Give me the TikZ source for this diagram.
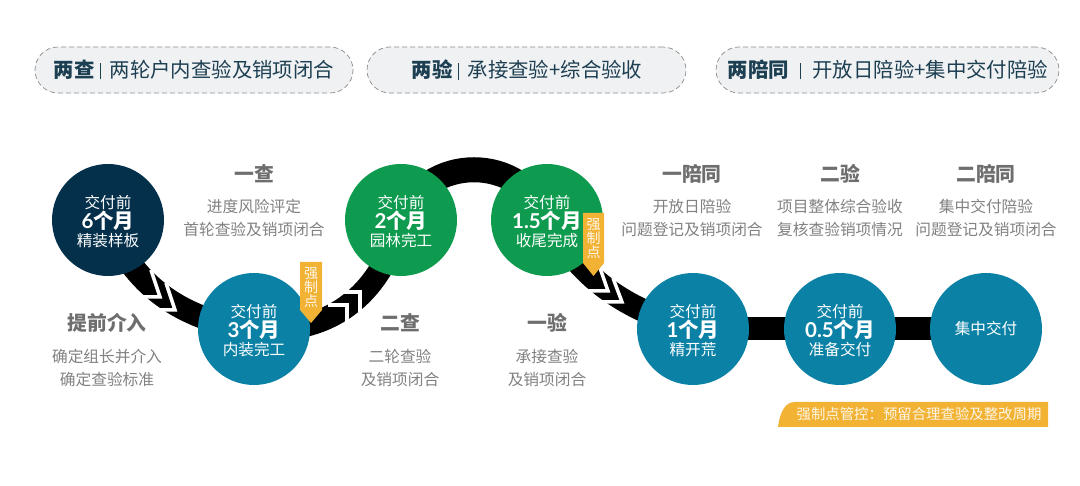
\documentclass[tikz,border=0pt]{standalone}
\usepackage{fontspec}
\setmainfont{Noto Sans CJK SC}
\newfontfamily\latofont{Lato}[BoldFont=Lato Bold]
\usetikzlibrary{backgrounds}
\definecolor{navy}{HTML}{04304B}
\definecolor{teal}{HTML}{0A81A5}
\definecolor{grn}{HTML}{0E9B4F}
\definecolor{flagc}{HTML}{F2B233}
\definecolor{pillf}{HTML}{F0F1F3}
\definecolor{pilld}{HTML}{8C8C8C}
\definecolor{pillt}{HTML}{1D3F52}
\definecolor{headg}{HTML}{6E6E6E}
\definecolor{bodyg}{HTML}{828282}
\newcommand\sz[2]{\fontsize{#1}{#2}\selectfont}
\newcommand\circtext[3]{\vbox{\offinterlineskip\halign{\hfil##\hfil\cr
  \vrule height 16.5pt depth 2.5pt width 0pt\smash{\lower1pt\hbox{\sz{15.6}{19}#1}}\cr
  \vrule height 16.5pt depth 2.5pt width 0pt\smash{\lower1.2pt\hbox{\sz{20.5}{19}\bfseries #2}}\cr
  \vrule height 16.5pt depth 2.5pt width 0pt\smash{\lower0.8pt\hbox{\sz{15.6}{19}#3}}\cr}}}
\newcommand\dg[1]{{\latofont\bfseries #1}}
\newcommand\bodytext[2]{\vbox{\offinterlineskip\halign{\hfil##\hfil\cr
  \vrule height 17pt depth 6pt width 0pt #1\cr
  \vrule height 17pt depth 6pt width 0pt #2\cr}}}
\newcommand\sepbar{\hspace{0.25em}\rule[-0.08em]{0.9pt}{0.8em}\hspace{0.45em}}
\tikzset{
  stage/.style={circle,minimum size=112pt,inner sep=0pt,text=white},
  pill/.style={rounded corners=23pt,draw=pilld,fill=pillf,line width=0.7pt,dash pattern=on 5pt off 3pt,minimum height=46pt,inner sep=0pt},
  pilltext/.style={text=pillt,font=\sz{20.4}{24},inner sep=0pt},
  head/.style={text=headg,font=\sz{19.8}{22}\bfseries,inner sep=0pt},
  body/.style={text=bodyg,font=\sz{15.7}{20},inner sep=0pt},
  road/.style={draw=black,line width=23pt},
  chev/.style={draw=white,line width=3.5pt,miter limit=10},
  flagshape/.style={fill=flagc,draw=none},
  flagtext/.style={text=white!90!flagc,font=\sz{14}{15},align=center,inner sep=0pt},
}
\begin{document}
\begin{tikzpicture}[x=1pt,y=-1pt]
\useasboundingbox (0,0) rectangle (1080,486);
% pills
\node[pill,minimum width=318pt] (p1) at (194,70) {};
\node[pill,minimum width=319pt] (p2) at (526.5,70) {};
\node[pill,minimum width=343pt] (p3) at (887.5,70) {};
\node[pilltext] (t1) at (194,70) {\textbf{两查}\sepbar 两轮户内查验及销项闭合};
\node[pilltext] (t2) at (527,70) {\textbf{两验}\sepbar 承接查验+综合验收};
\node[pilltext] (t3) at (888,70) {\textbf{两陪同}\hspace{0.3em}\sepbar\hspace{0.1em}开放日陪验+集中交付陪验};
% stages
\node[stage,fill=navy] (c1) at (108,220) {\circtext{交付前}{\dg{6}个月}{精装样板}};
\node[stage,fill=teal] (c2) at (254,329) {\circtext{交付前}{\dg{3}个月}{内装完工}};
\node[stage,fill=grn]  (c3) at (401,220) {\circtext{交付前}{\dg{2}个月}{园林完工}};
\node[stage,fill=grn]  (c4) at (547,220) {\circtext{交付前}{\dg{1.5}个月}{收尾完成}};
\node[stage,fill=teal] (c5) at (693,329) {\circtext{交付前}{\dg{1}个月}{精开荒}};
\node[stage,fill=teal] (c6) at (840,329) {\circtext{交付前}{\dg{0.5}个月}{准备交付}};
\node[stage,fill=teal,font=\sz{15.6}{19}] (c7) at (986,329) {集中交付};
% connectors
\begin{scope}[on background layer]
\fill[white] (0,0) rectangle (1080,486);
\draw[road] (c1.center) .. controls (130,285) and (185,322) .. (c2.center);
\draw[road] (c2.center) .. controls (325,335) and (380,300) .. (c3.center);
\draw[road,line width=25pt] (c3.center) .. controls (425,153) and (523,153) .. (c4.center);
\draw[road] (c4.center) .. controls (585,285) and (630,310) .. (c5.center);
\draw[road] (c5.center) -- (c6.center);
\draw[road] (c6.center) -- (c7.center);
\draw[chev] (151,270) -- (160,297) -- (136,297);
\draw[chev] (166,283) -- (175,310) -- (152,310);
\draw[chev] (328,305) -- (347,305) -- (347,324);
\draw[chev] (342,292) -- (360,292) -- (360,312);
\draw[chev] (600,268) -- (608,291) -- (586,291);
\draw[chev] (613,278) -- (622,302) -- (602,302);
\end{scope}
% flags
\fill[flagshape] (300,262) -- (322,262) -- (322,310) -- (311,323) -- (300,310) -- cycle;
\node[flagtext] (f1) at (311,288) {强\\[-1pt]制\\[-1pt]点};
\fill[flagshape] (583,213) -- (604,213) -- (604,263) -- (593.5,276) -- (583,263) -- cycle;
\node[flagtext] (f2) at (593.5,239) {强\\[-1pt]制\\[-1pt]点};
% labels
\node[head] (h1) at (254,174) {一查};
\node[body] (b1) at (254,218.5) {\bodytext{进度风险评定}{首轮查验及销项闭合}};
\node[head] (h2) at (107,323) {提前介入};
\node[body] (b2) at (107,368.5) {\bodytext{确定组长并介入}{确定查验标准}};
\node[head] (h3) at (400,323) {二查};
\node[body] (b3) at (400,368.5) {\bodytext{二轮查验}{及销项闭合}};
\node[head] (h4) at (547,323) {一验};
\node[body] (b4) at (547,368.5) {\bodytext{承接查验}{及销项闭合}};
\node[head] (h5) at (692,174) {一陪同};
\node[body] (b5) at (692,218.5) {\bodytext{开放日陪验}{问题登记及销项闭合}};
\node[head] (h6) at (840,174) {二验};
\node[body] (b6) at (840,218.5) {\bodytext{项目整体综合验收}{复核查验销项情况}};
\node[head] (h7) at (986,174) {二陪同};
\node[body] (b7) at (986,218.5) {\bodytext{集中交付陪验}{问题登记及销项闭合}};
% tag
\fill[flagshape] (778,427) .. controls (780,412) and (785,402) .. (795,402) -- (1048,402) -- (1048,427) -- cycle;
\node[text=white!88!flagc,font=\sz{14.4}{16},inner sep=0pt] (tag) at (919,414.5) {强制点管控：预留合理查验及整改周期};
\end{tikzpicture}
\end{document}
